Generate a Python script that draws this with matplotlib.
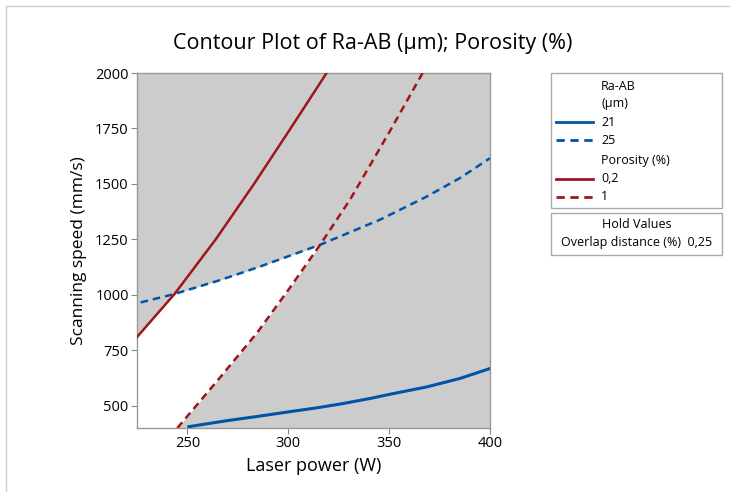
import numpy as np
import matplotlib.pyplot as plt
from matplotlib.lines import Line2D

plt.rcParams['font.family'] = ['Open Sans', 'DejaVu Sans']

# contour lines: laser power (W), scanning speed (mm/s)
ra21_power = [250.7, 269.6, 284.6, 302.6, 315, 327, 340, 352, 368.6, 385, 400]
ra21_speed = [406, 433, 452, 476, 492, 510, 532, 555, 585, 623, 668]

ra25_power = [226.8, 243.6, 266, 286.1, 315.8, 345.5, 368.6, 385, 400]
ra25_speed = [966, 1004, 1066, 1128, 1226, 1339, 1443, 1526, 1616]

por02_power = [225, 243.6, 264, 283, 300.9, 319]
por02_speed = [810, 1004, 1250, 1500, 1747, 2000]

por1_power = [245, 265, 284.6, 300, 315.8, 330.6, 350.5, 366.6]
por1_speed = [400, 615, 830, 1022, 1226, 1429, 1740, 2000]

blue = '#0054a6'
red = '#a0151c'
gray = '#cccccc'

fig = plt.figure(figsize=(7.3, 4.92), dpi=100)
ax = fig.add_axes([0.1877, 0.1301, 0.4835, 0.7215])
ax.set_facecolor(gray)

# white region: below Ra 25 and porosity 0.2, left of porosity 1
xx = np.linspace(225, 400, 800)
upper = np.minimum(np.interp(xx, por02_power, por02_speed, right=np.inf),
                   np.interp(xx, ra25_power, ra25_speed, left=ra25_speed[0] - 30))
lower = np.maximum(400, np.interp(xx, por1_power, por1_speed, left=0, right=np.inf))
ax.fill_between(xx, lower, upper, where=upper > lower, color='white', lw=0, zorder=1)

ax.plot(ra21_power, ra21_speed, color=blue, lw=2.2, zorder=3)
ax.plot(ra25_power, ra25_speed, color=blue, lw=1.8, ls=(0, (3, 2)), zorder=3)
ax.plot(por02_power, por02_speed, color=red, lw=1.8, zorder=3)
ax.plot(por1_power, por1_speed, color=red, lw=1.8, ls=(0, (3, 2)), zorder=3)

ax.set_xlim(225, 400)
ax.set_ylim(400, 2000)
ax.set_xticks([250, 300, 350, 400])
ax.set_yticks([500, 750, 1000, 1250, 1500, 1750, 2000])
ax.tick_params(labelsize=10.5, length=4, color='#888888', pad=2)
for s in ax.spines.values():
    s.set_color('#999999')
    s.set_linewidth(1)
ax.set_xlabel('Laser power (W)', fontsize=13, labelpad=4)
ax.set_ylabel('Scanning speed (mm/s)', fontsize=12.5, labelpad=6)
fig.text(0.511, 0.912, 'Contour Plot of Ra-AB (µm); Porosity (%)', fontsize=15.5,
         ha='center', va='center')

# legend boxes
def fig_box(x0, y0, x1, y1):
    W, H = 730, 492
    r = plt.Rectangle((x0 / W, 1 - y1 / H), (x1 - x0) / W, (y1 - y0) / H,
                      transform=fig.transFigure, fill=False, ec='#aaaaaa', lw=1)
    fig.add_artist(r)

def fx(x):
    return x / 730

def fy(y):
    return 1 - y / 492

fig_box(551, 73, 722, 208)
fig_box(551, 213, 722, 255)

entries = [(None, 'Ra-AB', 87), (None, '(µm)', 104), (('-', blue), '21', 122), (('--', blue), '25', 140),
           (None, 'Porosity (%)', 161), (('-', red), '0,2', 179), (('--', red), '1', 197)]
for sty, txt, y in entries:
    fig.text(fx(601), fy(y), txt, fontsize=9, va='center', ha='left')
    if sty:
        ls = '-' if sty[0] == '-' else (0, (3, 2))
        fig.add_artist(Line2D([fx(556), fx(593)], [fy(y), fy(y)], transform=fig.transFigure,
                              color=sty[1], lw=2, ls=ls))
fig.text(fx(637), fy(225), 'Hold Values', fontsize=9, ha='center', va='center')
fig.text(fx(637), fy(242), 'Overlap distance (%)  0,25', fontsize=9, ha='center', va='center')

# outer frame (top and left edges only)
fig.add_artist(Line2D([fx(6), fx(6), fx(730)], [fy(492), fy(6), fy(6)], transform=fig.transFigure,
                      color='#cccccc', lw=1))

fig.savefig('out.png', dpi=100)
